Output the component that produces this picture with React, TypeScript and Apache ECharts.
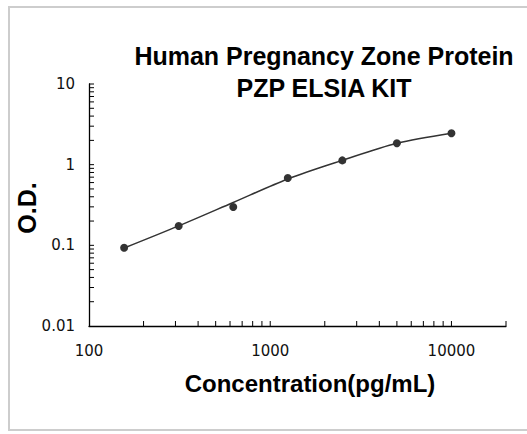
import React, { useEffect, useRef } from "react";
import * as echarts from "echarts";

const titleLines = ["Human Pregnancy Zone Protein", "PZP ELSIA KIT"];
const xTitle = "Concentration(pg/mL)";
const yTitle = "O.D.";

const concentration = [156.25, 312.5, 625, 1250, 2500, 5000, 10000];
const odValues = [0.0935, 0.174, 0.299, 0.684, 1.13, 1.84, 2.45];
const fitValues = [0.0925, 0.174, 0.34, 0.665, 1.13, 1.84, 2.45];

const xMin = 100;
const xMax = 20000;
const yMin = 0.01;
const yMax = 10;

const xTickValues = [
  200, 300, 400, 500, 600, 700, 800, 900, 1000,
  2000, 3000, 4000, 5000, 6000, 7000, 8000, 9000, 10000, 20000,
];
const yTickValues = [
  0.02, 0.03, 0.04, 0.05, 0.06, 0.07, 0.08, 0.09, 0.1,
  0.2, 0.3, 0.4, 0.5, 0.6, 0.7, 0.8, 0.9, 1,
  2, 3, 4, 5, 6, 7, 8, 9, 10,
];

const isPow10 = (v: number) => {
  const l = Math.log10(v);
  return Math.abs(l - Math.round(l)) < 1e-6;
};

export default function App() {
  const ref = useRef<HTMLDivElement>(null);
  useEffect(() => {
    if (!ref.current) return;
    const chart = echarts.init(ref.current, null, { renderer: "svg" });
    const tickData = [
      ...xTickValues.map((v) => [v, yMin, 0]),
      ...yTickValues.map((v) => [xMin, v, 1]),
    ];
    chart.setOption({
      animation: false,
      backgroundColor: "#ffffff",
      grid: { left: 89, top: 84, right: 21, bottom: 108, containLabel: false },
      xAxis: {
        type: "log",
        logBase: 10,
        min: xMin,
        max: xMax,
        axisLine: { show: true, onZero: false, lineStyle: { color: "#000", width: 1.3 } },
        axisTick: { show: false },
        splitLine: { show: false },
        minorTick: { show: false },
        axisLabel: {
          margin: 17,
          fontFamily: "DejaVu Sans",
          fontSize: 15,
          color: "#111",
          formatter: (v: number) => (isPow10(v) ? String(Math.round(v)) : ""),
        },
      },
      yAxis: {
        type: "log",
        logBase: 10,
        min: yMin,
        max: yMax,
        axisLine: { show: true, onZero: false, lineStyle: { color: "#000", width: 1.3 } },
        axisTick: { show: false },
        splitLine: { show: false },
        axisLabel: {
          margin: 14,
          fontFamily: "DejaVu Sans",
          fontSize: 15,
          color: "#111",
          formatter: (v: number) => {
            if (!isPow10(v)) return "";
            const e = Math.round(Math.log10(v));
            return e >= 0 ? String(Math.round(v)) : v.toFixed(-e);
          },
        },
      },
      series: [
        {
          type: "custom",
          clip: false,
          silent: true,
          data: tickData,
          renderItem: (params: any, api: any) => {
            const p = api.coord([api.value(0), api.value(1)]);
            const kind = api.value(2);
            const shape =
              kind === 0
                ? { x1: p[0], y1: p[1], x2: p[0], y2: p[1] - 5 }
                : { x1: p[0], y1: p[1], x2: p[0] + 5, y2: p[1] };
            return {
              type: "line",
              shape,
              style: { stroke: "#000", lineWidth: 1 },
            };
          },
        },
        {
          type: "line",
          data: concentration.map((c, i) => [c, fitValues[i]]),
          smooth: 0.3,
          showSymbol: false,
          symbol: "none",
          lineStyle: { color: "#333", width: 1.5 },
          silent: true,
        },
        {
          type: "scatter",
          data: concentration.map((c, i) => [c, odValues[i]]),
          symbol: "circle",
          symbolSize: 8,
          itemStyle: { color: "#000" },
          silent: true,
        },
      ],
      graphic: [
        { type: "line", shape: { x1: 9, y1: 6, x2: 9, y2: 431 }, style: { stroke: "#cdcdcd", lineWidth: 2 } },
        { type: "line", shape: { x1: 8, y1: 7, x2: 527, y2: 7 }, style: { stroke: "#cdcdcd", lineWidth: 2 } },
        { type: "line", shape: { x1: 8, y1: 430, x2: 527, y2: 430 }, style: { stroke: "#cdcdcd", lineWidth: 2 } },
        {
          type: "text",
          x: 324,
          y: 56,
          style: {
            text: titleLines[0],
            textAlign: "center",
            textVerticalAlign: "middle",
            font: "bold 25px 'Liberation Sans', Arial, sans-serif",
            fill: "#000",
          },
        },
        {
          type: "text",
          x: 324,
          y: 88,
          style: {
            text: titleLines[1],
            textAlign: "center",
            textVerticalAlign: "middle",
            font: "bold 25px 'Liberation Sans', Arial, sans-serif",
            fill: "#000",
          },
        },
        {
          type: "text",
          x: 310,
          y: 383,
          style: {
            text: xTitle,
            textAlign: "center",
            textVerticalAlign: "middle",
            font: "bold 24px 'Liberation Sans', Arial, sans-serif",
            fill: "#000",
          },
        },
        {
          type: "text",
          x: 27,
          y: 208,
          rotation: Math.PI / 2,
          style: {
            text: yTitle,
            textAlign: "center",
            textVerticalAlign: "middle",
            font: "bold 25px 'Liberation Sans', Arial, sans-serif",
            fill: "#000",
          },
        },
      ],
    });
    return () => chart.dispose();
  }, []);
  return (
    <div
      ref={ref}
      style={{ position: "fixed", left: 0, top: 0, width: 527, height: 434 }}
    />
  );
}
